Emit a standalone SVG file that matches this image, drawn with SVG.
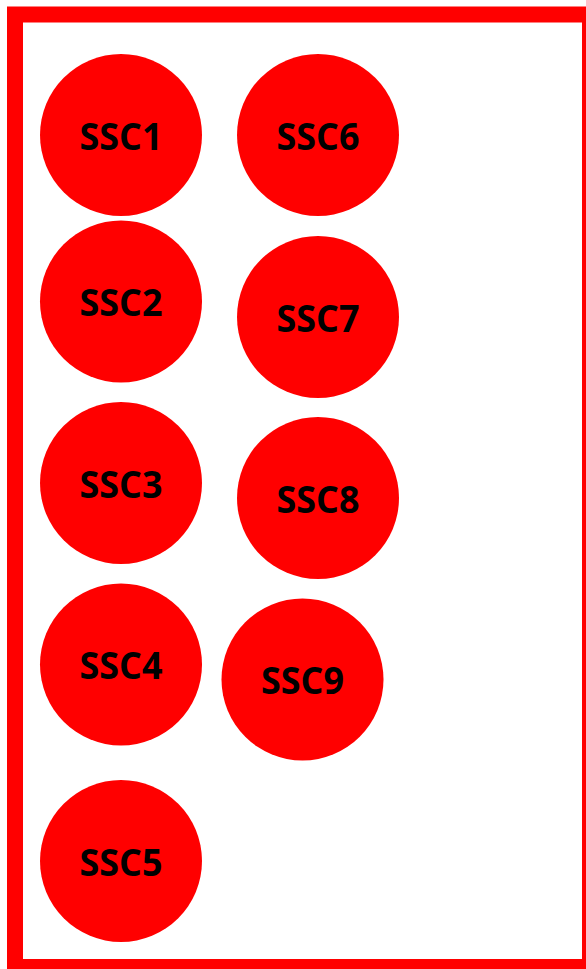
<svg xmlns="http://www.w3.org/2000/svg" width="586" height="969" viewBox="0 0 586 969">
<style>
.n circle{fill:#ff0000}
.n text{font-family:"Open Sans","Noto Sans","Liberation Sans",sans-serif;font-weight:bold;font-size:37px;fill:#000;text-anchor:middle}
</style>
<rect x="0" y="0" width="586" height="969" fill="#fff"/>
<rect x="15" y="14.5" width="575" height="952.5" fill="none" stroke="#ff0000" stroke-width="16"/>
<g id="connectors"/>
<g id="ssc1" class="n"><circle cx="121" cy="135" r="81"/><text x="121" y="149.5" textLength="83" lengthAdjust="spacingAndGlyphs">SSC1</text></g>
<g id="ssc2" class="n"><circle cx="121" cy="301.5" r="81"/><text x="121" y="316" textLength="83" lengthAdjust="spacingAndGlyphs">SSC2</text></g>
<g id="ssc3" class="n"><circle cx="121" cy="483" r="81"/><text x="121" y="497.5" textLength="83" lengthAdjust="spacingAndGlyphs">SSC3</text></g>
<g id="ssc4" class="n"><circle cx="121" cy="664.5" r="81"/><text x="121" y="679" textLength="83" lengthAdjust="spacingAndGlyphs">SSC4</text></g>
<g id="ssc5" class="n"><circle cx="121" cy="861" r="81"/><text x="121" y="875.5" textLength="83" lengthAdjust="spacingAndGlyphs">SSC5</text></g>
<g id="ssc6" class="n"><circle cx="318" cy="135" r="81"/><text x="318" y="149.5" textLength="83" lengthAdjust="spacingAndGlyphs">SSC6</text></g>
<g id="ssc7" class="n"><circle cx="318" cy="317" r="81"/><text x="318" y="331.5" textLength="83" lengthAdjust="spacingAndGlyphs">SSC7</text></g>
<g id="ssc8" class="n"><circle cx="318" cy="498" r="81"/><text x="318" y="512.5" textLength="83" lengthAdjust="spacingAndGlyphs">SSC8</text></g>
<g id="ssc9" class="n"><circle cx="302.5" cy="679.5" r="81"/><text x="302.5" y="694" textLength="83" lengthAdjust="spacingAndGlyphs">SSC9</text></g>
</svg>
